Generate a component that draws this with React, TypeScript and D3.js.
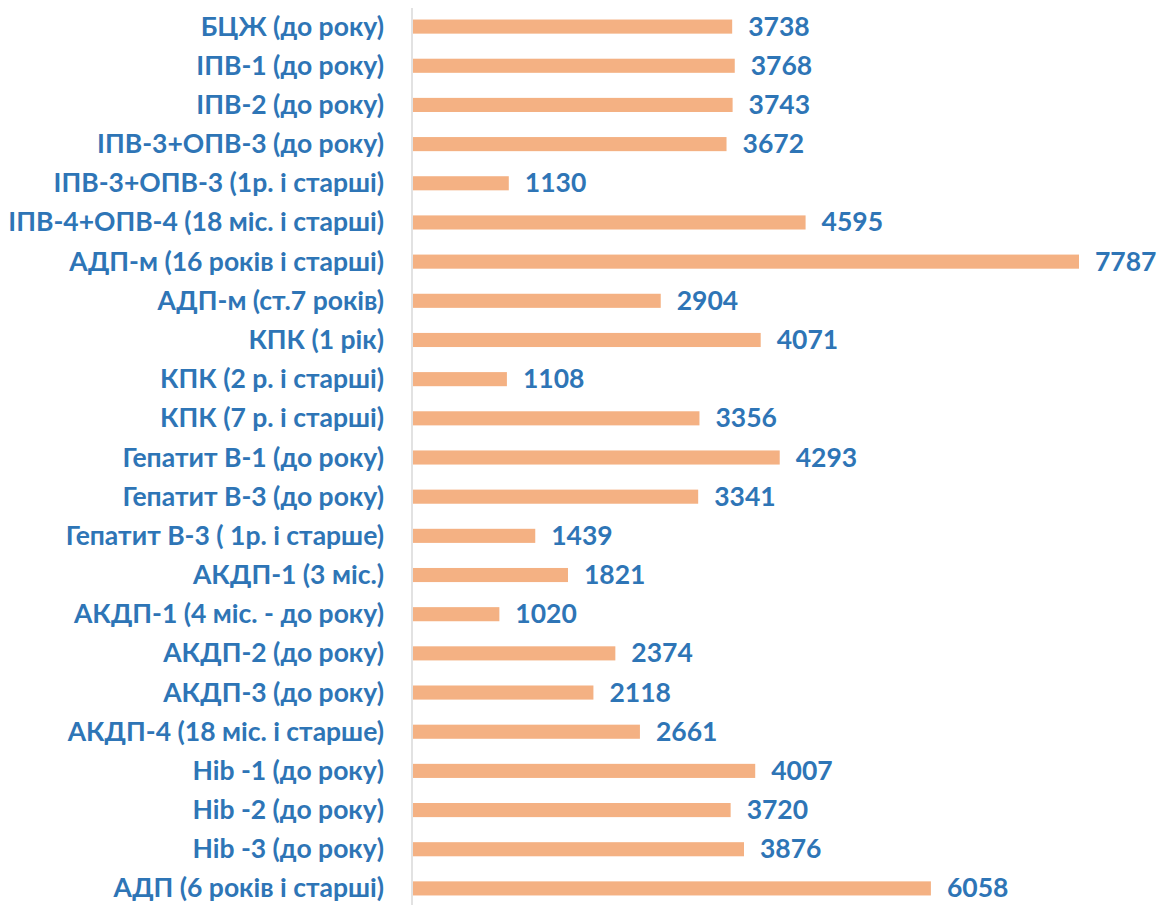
import React, { useEffect, useRef } from "react";
import * as d3 from "d3";

const categories = [
  "БЦЖ (до року)",
  "ІПВ-1 (до року)",
  "ІПВ-2 (до року)",
  "ІПВ-3+ОПВ-3 (до року)",
  "ІПВ-3+ОПВ-3 (1р. і старші)",
  "ІПВ-4+ОПВ-4 (18 міс. і старші)",
  "АДП-м (16 років і старші)",
  "АДП-м (ст.7 років)",
  "КПК (1 рік)",
  "КПК (2 р. і старші)",
  "КПК (7 р. і старші)",
  "Гепатит В-1 (до року)",
  "Гепатит В-3 (до року)",
  "Гепатит В-3 ( 1р. і старше)",
  "АКДП-1 (3 міс.)",
  "АКДП-1 (4 міс. - до року)",
  "АКДП-2 (до року)",
  "АКДП-3 (до року)",
  "АКДП-4 (18 міс. і старше)",
  "Hib -1 (до року)",
  "Hib -2 (до року)",
  "Hib -3 (до року)",
  "АДП (6 років і старші)",
];

const values = [
  3738, 3768, 3743, 3672, 1130, 4595, 7787, 2904, 4071, 1108, 3356, 4293,
  3341, 1439, 1821, 1020, 2374, 2118, 2661, 4007, 3720, 3876, 6058,
];

const App: React.FC = () => {
  const svgRef = useRef<SVGSVGElement | null>(null);

  useEffect(() => {
    if (!svgRef.current) return;
    const svg = d3.select(svgRef.current);
    svg.selectAll("*").remove();

    const height = 905;
    const left = 412;
    const blue = "#2E75B6";

    const data = categories.map((c, i) => ({ name: c, value: values[i] }));

    const x = d3.scaleLinear().domain([0, 7787]).range([left, 1079]);
    const y = d3
      .scaleBand()
      .domain(categories)
      .range([7, 908])
      .paddingInner(0.64)
      .paddingOuter(0.32);

    // vertical axis line
    svg
      .append("line")
      .attr("x1", left)
      .attr("x2", left)
      .attr("y1", 8)
      .attr("y2", height)
      .attr("stroke", "#d9d9d9")
      .attr("stroke-width", 1.5);

    svg
      .selectAll("rect.bar")
      .data(data)
      .enter()
      .append("rect")
      .attr("class", "bar")
      .attr("x", left + 1)
      .attr("y", (d) => y(d.name)!)
      .attr("width", (d) => x(d.value) - left - 1)
      .attr("height", y.bandwidth())
      .attr("fill", "#F4B183");

    const font = "Lato, 'Open Sans', sans-serif";

    svg
      .selectAll("text.cat")
      .data(data)
      .enter()
      .append("text")
      .attr("class", "cat")
      .attr("x", 384)
      .attr("y", (d) => y(d.name)! + y.bandwidth() / 2)
      .attr("dy", "0.34em")
      .attr("text-anchor", "end")
      .attr("font-family", font)
      .attr("font-weight", 700)
      .attr("font-size", 26.5)
      .attr("fill", blue)
      .text((d) => d.name);

    svg
      .selectAll("text.val")
      .data(data)
      .enter()
      .append("text")
      .attr("class", "val")
      .attr("x", (d) => x(d.value) + 16)
      .attr("y", (d) => y(d.name)! + y.bandwidth() / 2)
      .attr("dy", "0.34em")
      .attr("font-family", font)
      .attr("font-weight", 700)
      .attr("font-size", 26.5)
      .attr("fill", blue)
      .text((d) => d.value);
  }, []);

  return (
    <svg
      ref={svgRef}
      width={1160}
      height={905}
      style={{ position: "absolute", left: 0, top: 0 }}
    ></svg>
  );
};

export default App;
